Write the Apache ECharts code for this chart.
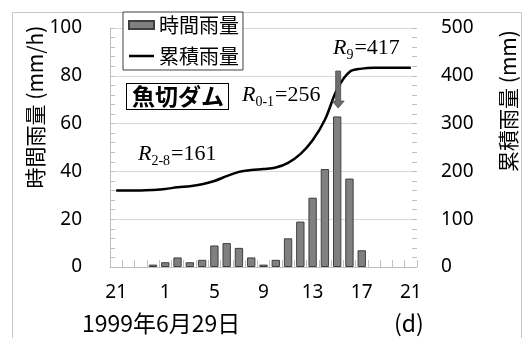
<!DOCTYPE html>
<html>
<head>
<meta charset="utf-8">
<script src="https://cdn.jsdelivr.net/npm/echarts@6/dist/echarts.min.js"></script>
<style>
html,body{margin:0;padding:0;background:#fff;}
#c{width:523px;height:338px;}
</style>
</head>
<body>
<div id="c"></div>
<script>
// Hour tick labels (21:00 on 6/28 through 21:00 on 6/29)
const hourLabels = ['21','22','23','0','1','2','3','4','5','6','7','8','9','10','11','12','13','14','15','16','17','18','19','20','21'];
// Unique category keys
const categories = ['28-21','28-22','28-23','29-0','29-1','29-2','29-3','29-4','29-5','29-6','29-7','29-8','29-9','29-10','29-11','29-12','29-13','29-14','29-15','29-16','29-17','29-18','29-19','29-20','29-21'];
// 時間雨量 (mm/h)
const hourlyRain = [0,0,0,1,2,4,2,3,9,10,8,4,1,3,12,19,29,41,63,37,7,0,0,0,0];
// 累積雨量 (mm)
const cumulativeRain = [160,160,160,161,163,167,169,173,180,190,199,203,205,208,218,236,265,308,372,408,415,417,417,417,417];

const seriesNames = ['時間雨量','累積雨量'];
const leftTitle = '時間雨量 (mm/h)';
const rightTitle = '累積雨量 (mm)';
const dateLabel = '1999年6月29日';
const unitLabel = '(d)';
const damName = '魚切ダム';

const JP = '"Noto Sans CJK JP"';
const NUM = '"Noto Sans"';
const SERIF = '"Liberation Serif"';

const chart = echarts.init(document.getElementById('c'), null, {renderer:'canvas'});

const gridCol = '#d9d9d9';
const axisCol = '#bfbfbf';
// thin horizontal line icon inside a 25x8 box (tiny corner specks fix the bounding box)
const lineIcon = 'path://M0,0 L0.01,0 L0.01,0.01 Z M0,2.8 L25,2.8 L25,5.2 L0,5.2 Z M24.99,7.99 L25,7.99 L25,8 Z';

chart.setOption({
  backgroundColor: '#fff',
  animation: false,
  grid: {left: 110, right: 106, top: 28, bottom: 71},
  legend: {
    orient: 'vertical',
    left: 123, top: 12,
    padding: [3, 4, 4, 5],
    itemGap: 11,
    itemWidth: 25, itemHeight: 8,
    borderColor: '#3f3f3f', borderWidth: 1,
    backgroundColor: '#fff',
    textStyle: {fontFamily: JP, fontSize: 20, color: '#000'},
    data: [{name: seriesNames[0], icon: 'rect'}, {name: seriesNames[1], icon: lineIcon}]
  },
  xAxis: {
    type: 'category',
    data: categories,
    boundaryGap: true,
    axisLine: {lineStyle: {color: axisCol, width: 1}},
    axisTick: {show: true, inside: true, length: 7, interval: 0, lineStyle: {color: axisCol}},
    axisLabel: {interval: 3, margin: 16, fontFamily: NUM, fontSize: 19, color: '#000',
      formatter: (v, i) => hourLabels[i]}
  },
  yAxis: [{
    type: 'value', min: 0, max: 100, interval: 20,
    axisLine: {show: true, lineStyle: {color: axisCol}},
    axisTick: {show: true, inside: true, length: 5, lineStyle: {color: axisCol}},
    minorTick: {show: true, splitNumber: 5, length: 5, lineStyle: {color: axisCol}},
    splitLine: {show: true, lineStyle: {color: gridCol, width: 1}},
    axisLabel: {margin: 28, fontFamily: NUM, fontSize: 19, color: '#000'}
  }, {
    type: 'value', min: 0, max: 500, interval: 100,
    axisLine: {show: false},
    axisTick: {show: true, inside: true, length: 5, lineStyle: {color: axisCol}},
    minorTick: {show: true, splitNumber: 5, length: 5, lineStyle: {color: axisCol}},
    splitLine: {show: false},
    axisLabel: {margin: 24, fontFamily: NUM, fontSize: 19, color: '#000'}
  }],
  series: [{
    name: seriesNames[0], type: 'bar', yAxisIndex: 0,
    data: hourlyRain.map(v => (v === 0 ? null : v)), barWidth: '68%',
    itemStyle: {color: '#808080', borderColor: '#3f3f3f', borderWidth: 1}
  }, {
    name: seriesNames[1], type: 'line', yAxisIndex: 1,
    data: cumulativeRain, smooth: 0.35, symbol: 'none', showSymbol: false,
    lineStyle: {color: '#000', width: 2.5},
    itemStyle: {color: '#000'}, z: 3
  }]
});

// Arrow anchored via axis scale
const arrowTop = chart.convertToPixel({xAxisIndex: 0, yAxisIndex: 0}, [18, 82]);
const arrowTip = chart.convertToPixel({xAxisIndex: 0, yAxisIndex: 0}, [18, 66.5]);
const ax = arrowTop[0] + 1, yT = arrowTop[1], yP = arrowTip[1], yB = yP - 7;

const rich = {
  r: {fontFamily: SERIF, fontStyle: 'italic', fontSize: 22, color: '#000', verticalAlign: 'bottom', lineHeight: 24},
  s: {fontFamily: SERIF, fontSize: 14, color: '#000', verticalAlign: 'bottom', lineHeight: 18, padding: [0,1,-3,0]},
  n: {fontFamily: SERIF, fontSize: 22, color: '#000', verticalAlign: 'bottom', lineHeight: 24}
};

chart.setOption({
  graphic: [
    {type: 'rect', silent: true, z: -10, shape: {x: 12.5, y: 12.5, width: 509, height: 400},
     style: {fill: 'none', stroke: '#c8c8c8', lineWidth: 1}},
    {type: 'text', x: 35, y: 107, rotation: Math.PI / 2,
     style: {text: leftTitle, font: '21px ' + JP, fill: '#000', align: 'center', verticalAlign: 'middle'}},
    {type: 'text', x: 508, y: 101, rotation: Math.PI / 2,
     style: {text: rightTitle, font: '21px ' + JP, fill: '#000', align: 'center', verticalAlign: 'middle'}},
    {type: 'text', left: 82, top: 312,
     style: {text: dateLabel, font: '23px ' + JP, fill: '#000'}},
    {type: 'text', left: 394, top: 312,
     style: {text: unitLabel, font: '23px ' + JP, fill: '#000'}},
    {type: 'text', left: 126, top: 83, z: 10,
     style: {text: damName, font: 'bold 23px ' + JP, fill: '#000', backgroundColor: '#fff',
             borderColor: '#000', borderWidth: 1, padding: [1, 4, 1, 5]}},
    {type: 'text', left: 242, top: 84, z: 10,
     style: {text: '{r|R}{s|0-1}{n|=256}', rich: rich}},
    {type: 'text', left: 333, top: 37, z: 10,
     style: {text: '{r|R}{s|9}{n|=417}', rich: rich}},
    {type: 'text', left: 138, top: 143, z: 10,
     style: {text: '{r|R}{s|2-8}{n|=161}', rich: rich}},
    {type: 'polygon', z: 20,
     shape: {points: [[ax-2.5, yT], [ax+2.5, yT], [ax+2.5, yB], [ax+6, yB], [ax, yP], [ax-6, yB], [ax-2.5, yB]]},
     style: {fill: '#6e6e6e', stroke: '#4a4a4a', lineWidth: 0.8}}
  ]
});
</script>
</body>
</html>
